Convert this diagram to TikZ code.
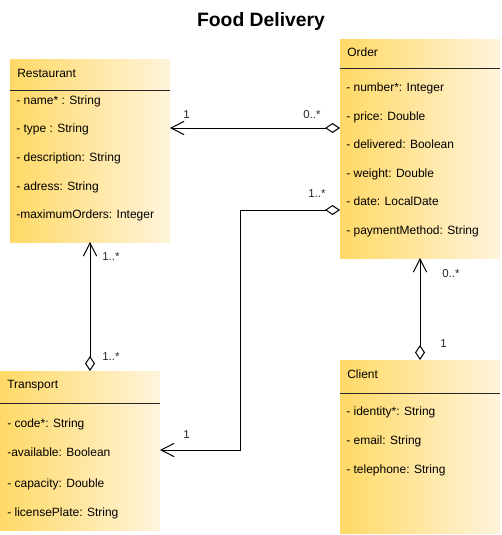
\documentclass[tikz,border=0pt]{standalone}
\usepackage{fontspec}
\setmainfont{Liberation Sans}
\usetikzlibrary{arrows.meta}
\definecolor{gradL}{HTML}{FFD966}
\definecolor{gradR}{HTML}{FFF4DC}
\tikzset{
  umlbox/.style={draw=none, left color=gradL, right color=gradR, anchor=north west, inner sep=0pt, outer sep=0pt},
  txt/.style={anchor=base west, inner sep=0pt, font=\fontsize{9}{11}\selectfont},
  lbl/.style={anchor=base west, inner sep=0pt, font=\fontsize{8.6}{10}\selectfont, text=black!85},
  sepline/.style={draw=black!85, line width=0.75pt},
  assoc/.style={draw=black, line width=0.75pt,
    {Diamond[open, length=11.25pt, width=7.5pt, line width=0.75pt]}-{Straight Barb[length=9.75pt, width=10pt, line width=0.75pt]}},
}
\begin{document}
\begin{tikzpicture}[x=0.75pt, y=-0.75pt]
\useasboundingbox (0,0) rectangle (501,535);

% title
\node[anchor=base, inner sep=0pt, font=\fontsize{14.5}{17}\selectfont\bfseries] (title) at (261,27) {Food Delivery};

% boxes
\node[umlbox, minimum width=120pt, minimum height=136.5pt] (rest) at (10,60) {};
\node[umlbox, minimum width=120pt, minimum height=163.5pt] (order) at (340,40) {};
\node[umlbox, minimum width=120pt, minimum height=129.75pt] (client) at (340,360) {};
\node[umlbox, minimum width=120pt, minimum height=119.25pt] (transport) at (0,371) {};

% header separators
\draw[sepline] (rest.west |- 0,90) -- (rest.east |- 0,90);
\draw[sepline] (order.west |- 0,69) -- (order.east |- 0,69);
\draw[sepline] (client.west |- 0,393) -- (client.east |- 0,393);
\draw[sepline] (transport.west |- 0,403) -- (transport.east |- 0,403);

% Restaurant
\node[txt] (restT) at (17,78) {Restaurant};
\node[txt] (r1) at (16,104) {- name* : String};
\node[txt] (r2) at (16,132) {- type : String};
\node[txt] (r3) at (16,161) {- description: String};
\node[txt] (r4) at (16,190) {- adress: String};
\node[txt] (r5) at (16,218) {-maximumOrders: Integer};

% Order
\node[txt] (orderT) at (347,57) {Order};
\node[txt] (o1) at (346,91) {- number*: Integer};
\node[txt] (o2) at (346,120) {- price: Double};
\node[txt] (o3) at (346,148) {- delivered: Boolean};
\node[txt] (o4) at (346,177) {- weight: Double};
\node[txt] (o5) at (346,205) {- date: LocalDate};
\node[txt] (o6) at (346,234) {- paymentMethod: String};

% Client
\node[txt] (clientT) at (347,378) {Client};
\node[txt] (c1) at (346,415) {- identity*: String};
\node[txt] (c2) at (346,444) {- email: String};
\node[txt] (c3) at (346,473) {- telephone: String};

% Transport
\node[txt] (transT) at (7,388) {Transport};
\node[txt] (t1) at (7,427) {- code*: String};
\node[txt] (t2) at (7,456) {-available: Boolean};
\node[txt] (t3) at (7,487) {- capacity: Double};
\node[txt] (t4) at (7,516) {- licensePlate: String};

% connectors
\draw[assoc] (order.west |- 0,128) -- (rest.east |- 0,128);
\draw[assoc] (order.west |- 0,210) -| (240,450) -- (transport.east |- 0,450);
\draw[assoc] (transport.north -| 90,0) -- (rest.south -| 90,0);
\draw[assoc] (client.north -| 420,0) -- (order.south -| 420,0);

% multiplicities
\node[lbl] (m1) at (183,118) {1};
\node[lbl] (m2) at (303,118) {0..*};
\node[lbl] (m3) at (308,197) {1..*};
\node[lbl] (m4) at (183,438) {1};
\node[lbl] (m5) at (102,260) {1..*};
\node[lbl] (m6) at (102,360) {1..*};
\node[lbl] (m7) at (442,277) {0..*};
\node[lbl] (m8) at (440,347) {1};
\end{tikzpicture}
\end{document}
